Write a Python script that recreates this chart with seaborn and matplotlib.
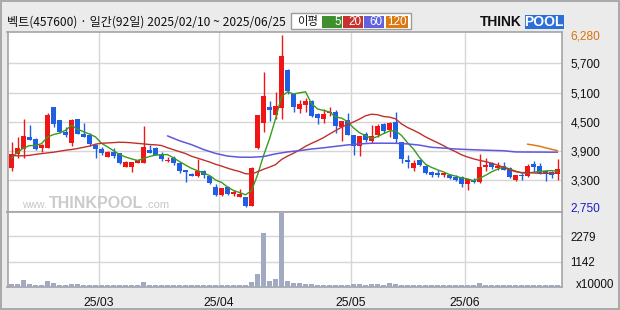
import numpy as np
import pandas as pd
import matplotlib
matplotlib.use("Agg")
import matplotlib.pyplot as plt
from matplotlib.patches import Rectangle
import seaborn as sns

# ---------------- data ----------------
title_text = "벡트(457600) · 일간(92일) 2025/02/10 ~ 2025/06/25"
legend_label = "이평"
ma_names = ["5", "20", "60", "120"]

opens = [3546, 3833, 3936, 4189, 4154, 3970, 3970, 4797, 4537, 4298,
         4072, 4558, 4250, 4230, 4024, 3936, 3785, 3887, 3854, 3580,
         3580, 3648, 3662, 3929, 3970, 3847, 3689, 3765, 3655, 3512,
         3430, 3375, 3484, 3375, 3149, 2985, 3163, 3019, 2951, 2951,
         2775, 3970, 4482, 4804, 4640, 4790, 5563, 5077, 4756, 4852,
         4927, 4660, 4551, 4687, 4694, 4400, 4537, 4229, 4010, 4249,
         4106, 4229, 4448, 4331, 4502, 4085, 3709, 3559, 3709, 3593,
         3477, 3456, 3409, 3409, 3354, 3354, 3224, 3293, 3252, 3580,
         3662, 3546, 3593, 3552, 3306, 3409, 3375, 3634, 3593, 3477,
         3477, 3429]
highs = [4093, 4195, 4558, 4435, 4175, 4045, 4681, 4800, 4540, 4394,
         4551, 4560, 4470, 4264, 4040, 3990, 3890, 3957, 3854, 3690,
         3683, 3720, 4414, 4024, 3975, 3874, 3785, 3799, 3683, 3515,
         3440, 3737, 3505, 3380, 3218, 3140, 3170, 3101, 3115, 2955,
         3565, 4650, 5522, 4927, 5118, 6280, 5583, 5084, 4947, 4981,
         4940, 4674, 4756, 4797, 4742, 4515, 4673, 4235, 4215, 4297,
         4434, 4448, 4468, 4503, 4707, 4090, 3812, 3716, 3730, 3614,
         3497, 3500, 3456, 3422, 3409, 3375, 3320, 3340, 3840, 3751,
         3665, 3682, 3682, 3560, 3410, 3456, 3634, 3703, 3648, 3480,
         3491, 3730]
lows = [3491, 3765, 3765, 4120, 3922, 3888, 3956, 4394, 4264, 4195,
        4011, 4240, 4190, 4004, 3751, 3819, 3780, 3752, 3635, 3575,
        3457, 3645, 3655, 3850, 3815, 3703, 3676, 3614, 3443, 3259,
        3380, 3370, 3341, 3225, 2965, 2980, 3000, 2964, 2945, 2750,
        2760, 3942, 4298, 4523, 4551, 4551, 5063, 4708, 4674, 4708,
        4592, 4448, 4482, 4619, 4263, 4106, 4225, 3819, 3798, 4092,
        4058, 4195, 4277, 4181, 4072, 3661, 3552, 3497, 3593, 3429,
        3354, 3360, 3374, 3320, 3292, 3149, 3101, 3238, 3245, 3491,
        3525, 3511, 3498, 3340, 3285, 3306, 3370, 3477, 3429, 3292,
        3340, 3306]
closes = [3833, 3956, 4202, 4134, 3936, 4024, 4640, 4455, 4284, 4230,
          4530, 4243, 4195, 4038, 3942, 3867, 3881, 3800, 3648, 3683,
          3676, 3717, 3990, 3867, 3819, 3730, 3724, 3648, 3491, 3457,
          3389, 3491, 3409, 3231, 2999, 3136, 3019, 3047, 3019, 2770,
          3559, 4640, 5029, 4749, 4824, 5850, 5132, 4810, 4865, 4934,
          4626, 4585, 4660, 4708, 4420, 4509, 4229, 4010, 4208, 4126,
          4215, 4420, 4311, 4482, 4147, 3737, 3668, 3661, 3614, 3456,
          3415, 3412, 3443, 3340, 3306, 3224, 3313, 3265, 3573, 3614,
          3580, 3593, 3511, 3354, 3402, 3375, 3593, 3580, 3443, 3456,
          3409, 3525]
# volume in units of 10,000 shares
volumes = [135, 135, 314, 135, 70, 70, 269, 180, 70, 70,
           135, 135, 70, 70, 70, 70, 70, 70, 70, 70,
           70, 70, 225, 70, 70, 70, 70, 70, 70, 70,
           70, 70, 70, 70, 70, 70, 70, 70, 70, 70,
           225, 584, 2425, 269, 359, 3323, 269, 180, 180, 135,
           135, 90, 80, 70, 70, 70, 70, 135, 135, 100,
           135, 135, 80, 180, 150, 100, 70, 70, 70, 70,
           70, 70, 70, 70, 70, 70, 70, 70, 180, 70,
           70, 70, 70, 70, 70, 70, 70, 70, 70, 70,
           70, 70]

# moving-average values that need history before the window
ma5_head = [3760, 3870, 3960, 4010]
ma20_head = [3805, 3800, 3800, 3810, 3830, 3845, 3860, 3874, 3895, 3915,
             3930, 3950, 3975, 4000, 4040, 4059, 4065, 4072, 4080]
ma60_idx = [26, 28, 30, 32, 34, 36, 38, 40, 42, 44, 46, 48, 50, 52, 54, 56,
            58, 60, 62, 64, 66, 68, 70, 72, 74, 76, 78, 80, 82, 84, 86, 88, 90, 91]
ma60_val = [4210, 4110, 4030, 3930, 3850, 3795, 3772, 3770, 3785, 3840, 3880,
            3907, 3940, 3965, 3995, 4024, 4045, 4059, 4060, 4058, 4045, 4020,
            3975, 3960, 3940, 3930, 3920, 3912, 3905, 3880, 3878, 3877, 3875, 3875]
ma120_idx = [86, 87, 88, 89, 90, 91]
ma120_val = [4040, 4020, 3998, 3965, 3935, 3905]

month_labels = ["25/03", "25/04", "25/05", "25/06"]
month_first_idx = [15, 35, 57, 76]
price_ticks = [3300, 3900, 4500, 5100, 5700]
price_max = 6280
price_min = 2750
vol_ticks = [1142, 2279]
vol_unit = "x10000"

# ---------------- derived ----------------
n = len(closes)
idx = np.arange(n)
df = pd.DataFrame({"i": idx, "open": opens, "high": highs, "low": lows,
                   "close": closes, "vol": volumes})
ma5 = df["close"].rolling(5).mean().to_numpy()
ma5[:4] = ma5_head
ma20 = df["close"].rolling(20).mean().to_numpy()
ma20[:19] = ma20_head
df["ma5"] = ma5
df["ma20"] = ma20

up = df["close"] >= df["open"]
body_lo = np.minimum(df["open"], df["close"])
body_h = np.maximum(np.abs(df["close"] - df["open"]), 25)
RED, BLUE = "#f01616", "#1f5fe4"
cols = np.where(up, RED, BLUE)

# ---------------- figure ----------------
sns.set_theme(style="white")
plt.rcParams["font.family"] = ["Noto Sans CJK KR", "DejaVu Sans"]
NUMFONT = ["Liberation Sans", "DejaVu Sans"]

W, H = 620, 310
fig = plt.figure(figsize=(6.2, 3.1), dpi=100)
fig.patch.set_facecolor("#ebebeb")

ov = fig.add_axes([0, 0, 1, 1])
ov.set_xlim(0, W)
ov.set_ylim(H, 0)
ov.axis("off")

L, R = 7.5, 562
P_TOP, P_BOT, V_BOT = 32, 212, 287
axp = fig.add_axes([L / W, 1 - P_BOT / H, (R - L) / W, (P_BOT - P_TOP) / H])
axv = fig.add_axes([L / W, 1 - V_BOT / H, (R - L) / W, (V_BOT - P_BOT) / H], sharex=axp)

GRID = "#d6d6d6"
bounds = [m - 0.5 for m in month_first_idx]

# price panel
for yv in price_ticks:
    axp.axhline(yv, color=GRID, lw=1.0, zorder=0)
for xb in bounds:
    axp.axvline(xb, color=GRID, lw=1.0, zorder=0)
    axv.axvline(xb, color=GRID, lw=1.0, zorder=0)
for yv in vol_ticks:
    axv.axhline(yv, color=GRID, lw=1.0, zorder=0)

# watermark
axp.text(0.026, 0.025, "www.", transform=axp.transAxes, fontsize=7.5,
         color="#c6c6c6", family=NUMFONT, zorder=1, va="baseline")
axp.text(0.074, 0.025, "THINKPOOL", transform=axp.transAxes, fontsize=11.5,
         fontweight="bold", color="#cbcbcb", family=NUMFONT, zorder=1, va="baseline")
axp.text(0.248, 0.025, ".com", transform=axp.transAxes, fontsize=8,
         color="#c6c6c6", family=NUMFONT, zorder=1, va="baseline")

axp.vlines(df["i"], df["low"], df["high"], colors=cols, lw=1.0, zorder=3)
axp.bar(df["i"], body_h, bottom=body_lo, width=0.8, color=cols, linewidth=0, zorder=4)

sns.lineplot(x=df["i"], y=df["ma5"], ax=axp, color="#3a9a1e", lw=1.0, zorder=5, legend=False)
sns.lineplot(x=df["i"], y=df["ma20"], ax=axp, color="#c0302c", lw=1.0, zorder=5, legend=False)
sns.lineplot(x=ma60_idx, y=ma60_val, ax=axp, color="#6157dc", lw=1.1, zorder=5, legend=False)
sns.lineplot(x=ma120_idx, y=ma120_val, ax=axp, color="#e07a12", lw=1.1, zorder=5, legend=False)

axp.set_ylim(2644, 6348)
axp.yaxis.tick_right()
yt = [price_min] + price_ticks + [price_max]
axp.set_yticks(yt)
axp.set_yticklabels([f"{v:,}" for v in yt], family=NUMFONT, fontsize=8.6)
labs = axp.get_yticklabels()
labs[0].set_color("#1c1cc8")
labs[-1].set_color("#d9730c")
for lb in labs[1:-1]:
    lb.set_color("#111111")
axp.tick_params(axis="y", length=0, pad=6)
axp.tick_params(axis="x", length=0, labelbottom=False)
axp.set_xlabel("")
axp.set_ylabel("")

# volume panel
sns.barplot(x=df["i"], y=df["vol"], ax=axv, native_scale=True, color="#a2aac2",
            saturation=1, width=0.8, errorbar=None, linewidth=0, zorder=3)
axv.set_ylim(0, 3370)
axv.yaxis.tick_right()
axv.set_yticks(vol_ticks)
axv.set_yticklabels([str(v) for v in vol_ticks], family=NUMFONT, fontsize=8.3, color="#111111")
axv.tick_params(axis="y", length=0, pad=6)
axv.set_xticks(bounds)
axv.set_xticklabels(month_labels, family=NUMFONT, fontsize=8.8, color="#111111")
axv.tick_params(axis="x", length=0, pad=7)
axv.set_xlabel("")
axv.set_ylabel("")
axp.set_xlim(-0.67, 91.75)

for ax in (axp, axv):
    ax.set_facecolor("white")
    for s in ax.spines.values():
        s.set_color("#a4a4a4")
        s.set_linewidth(1.2)

# ---------------- header / decorations (pixel coords) ----------------
ov.add_patch(Rectangle((0.8, 0.8), W - 1.6, H - 1.6, fill=False, ec="#a9a9a9", lw=1.4))
ov.text(7, 22.5, title_text, fontsize=8.7, va="center", ha="left", color="#111111")

ov.add_patch(Rectangle((291, 12.7), 120, 16.6, fc="white", ec="#9c9c9c", lw=1.0))
ov.text(297, 21.3, legend_label, fontsize=8.2, va="center", ha="left", color="#111111")
box_cols = ["#3f8f2d", "#c8322e", "#6262de", "#de7810"]
box_x = [322, 343, 364, 386]
box_w = [20, 20, 20, 22]
for bx, bw, bc, nm in zip(box_x, box_w, box_cols, ma_names):
    ov.add_patch(Rectangle((bx, 15.7), bw, 12, fc=bc, ec="none"))
    ov.text(bx + bw - 1.2, 22.0, nm, fontsize=8.4, va="center", ha="right",
            color="white", family=NUMFONT)

ov.text(480, 22, "THINK", fontsize=10, fontweight="bold", va="center", ha="left",
        color="#111111", family=NUMFONT)
ov.add_patch(Rectangle((524.5, 14.5), 39, 14, fc="#2b6fd8", ec="none"))
ov.text(544, 22, "POOL", fontsize=10, fontweight="bold", va="center", ha="center",
        color="white", family=NUMFONT)

ov.text(576, 285, vol_unit, fontsize=8.4, va="center", ha="left", color="#111111",
        family=NUMFONT)

fig.savefig("out.png", dpi=100, facecolor=fig.get_facecolor())
